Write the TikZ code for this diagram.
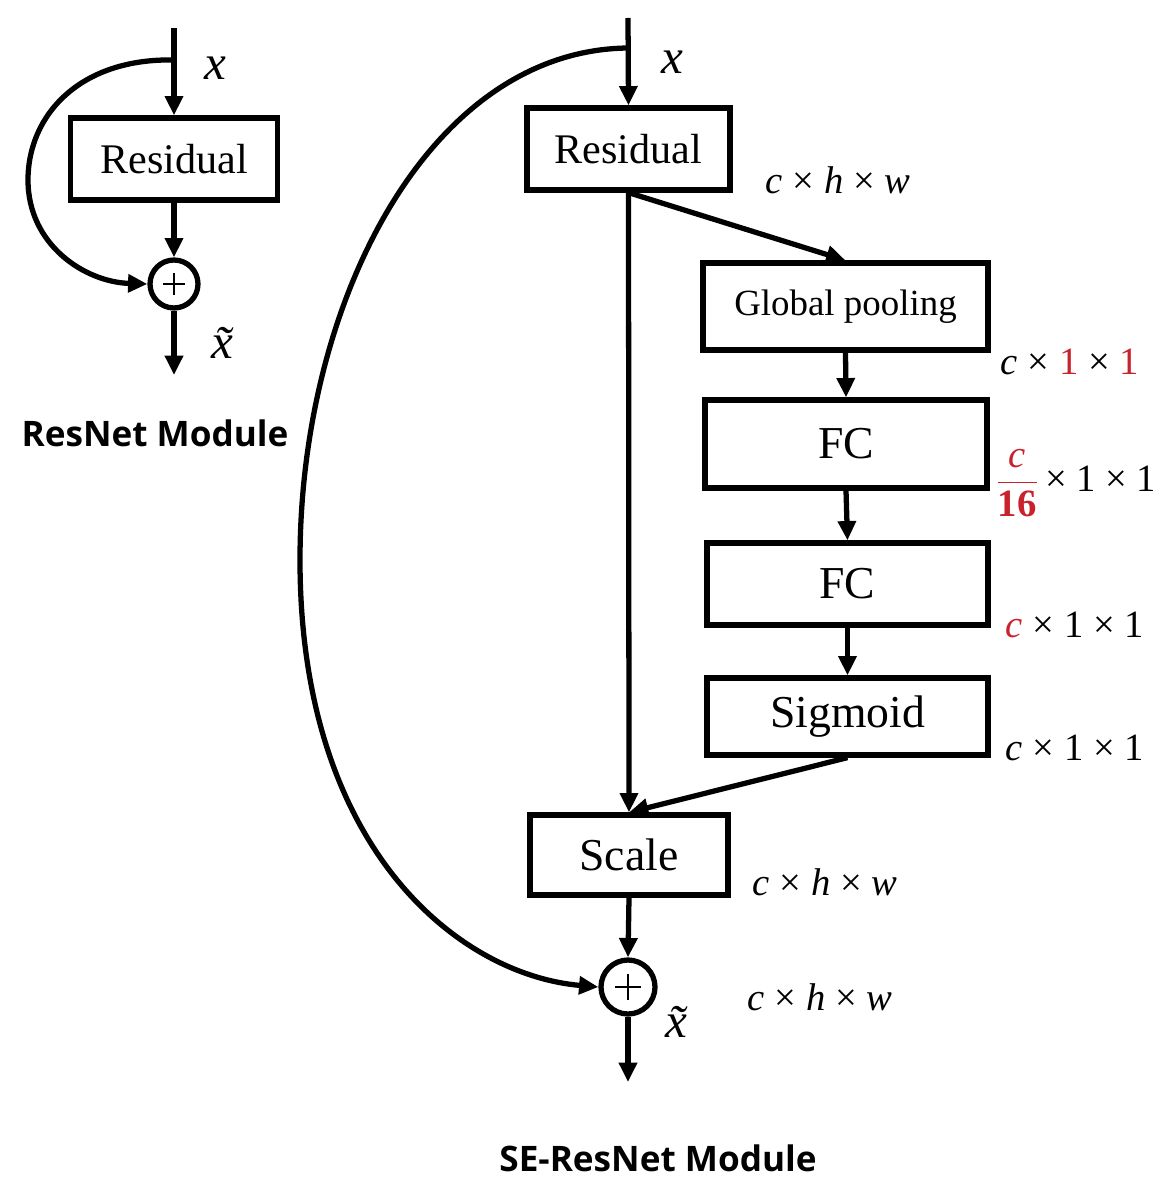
\documentclass[tikz,border=0pt]{standalone}
\usepackage{fontspec}
\setmainfont{Liberation Serif}
\newfontfamily\titlefont{Open Sans}
\usetikzlibrary{arrows.meta}
\definecolor{dimred}{RGB}{200,35,45}
\newcommand{\tm}{×}
\begin{document}
\begin{tikzpicture}[x=0.02cm,y=-0.02cm,
  line width=3pt,
  arr/.style={-{Triangle[length=11pt,width=10pt]}},
  blk/.style={draw,rectangle,inner sep=0pt,font=\fontsize{24}{28}\selectfont},
  sum/.style={draw,circle,inner sep=0pt},
  dimlab/.style={font=\fontsize{22}{26}\selectfont,inner sep=0pt},
  varlab/.style={font=\fontsize{28}{32}\selectfont\itshape,inner sep=0pt},
  title/.style={font=\titlefont\bfseries\fontsize{20}{24}\selectfont,inner sep=0pt}]
\useasboundingbox (0,0) rectangle (1171,1179);

% ---------- ResNet module ----------
\coordinate (lin) at (174,28);
\coordinate (lsplit) at (174,60);
\coordinate (lout) at (174,375);
\node[blk,minimum width=4.14cm,minimum height=1.64cm] (lres) at (174,159) {Residual};
\node[sum,minimum size=0.96cm] (lsum) at (174,284) {};
\draw[line width=0.6pt] (lsum.center) ++(-11,0) -- ++(22,0);
\draw[line width=0.6pt] (lsum.center) ++(0,-11) -- ++(0,22);

\draw[arr] (lin) -- (lres.north);
\draw[arr] (lres.south) -- (lsum.north);
\draw[arr] (lsum.south) -- (lout);
\draw[arr] (lsplit) .. controls (80,58) and (28,115) .. (28,180)
  .. controls (28,245) and (85,282) .. (lsum.west);

\node[varlab] (lx) at (215,68) {x};
\node[varlab] (lxt) at (222,343) {\~x};
\node[title] (ltitle) at (155,433) {ResNet Module};

% ---------- SE-ResNet module ----------
\coordinate (rin) at (628,18);
\coordinate (rsplit) at (628,48);
\coordinate (rout) at (628,1082);
\node[blk,minimum width=4.06cm,minimum height=1.64cm] (rres) at (628.5,149) {Residual};
\node[blk,minimum width=5.7cm,minimum height=1.74cm,font=\fontsize{21}{25}\selectfont] (gp) at (845.5,306.5) {Global pooling};
\node[blk,minimum width=5.64cm,minimum height=1.76cm,font=\fontsize{26}{30}\selectfont] (fc1) at (846,444) {FC};
\node[blk,minimum width=5.62cm,minimum height=1.64cm,font=\fontsize{26}{30}\selectfont] (fc2) at (847.5,584) {FC};
\node[blk,minimum width=5.62cm,minimum height=1.54cm,font=\fontsize{26}{30}\selectfont] (sig) at (847.5,716.5) {Sigmoid};
\node[blk,minimum width=3.96cm,minimum height=1.6cm,font=\fontsize{26}{30}\selectfont] (scale) at (629,855) {Scale};
\node[sum,minimum size=1.08cm] (rsum) at (628,987) {};
\draw[line width=0.6pt] (rsum.center) ++(-13,0) -- ++(26,0);
\draw[line width=0.6pt] (rsum.center) ++(0,-13) -- ++(0,26);

\draw[arr] (rin) -- (rres.north);
\draw[arr] (rres.south) -- (scale.north);
\draw[arr] (rres.south) -- (gp.north);
\draw[arr] (gp.south) -- (fc1.north);
\draw[arr] (fc1.south) -- (fc2.north);
\draw[arr] (fc2.south) -- (sig.north);
\draw[arr] (sig.south) -- (scale.north);
\draw[arr] (scale.south) -- (rsum.north);
\draw[arr] (rsum.south) -- (rout);
\draw[arr] (rsplit) .. controls (430,50) and (300,300) .. (300,560)
  .. controls (300,850) and (460,975) .. (rsum.west);

\node[varlab] (rx) at (672,62) {x};
\node[varlab] (rxt) at (676,1022) {\~x};

\node[dimlab] (d1) at (838,180) {\textit{c} \tm{} \textit{h} \tm{} \textit{w}};
\node[dimlab] (d2) at (1070,362) {\textit{c} \tm{} \textcolor{dimred}{1} \tm{} \textcolor{dimred}{1}};
\node[dimlab] (d3) at (1076,483) {\textcolor{dimred}{$\displaystyle\frac{\mbox{\itshape c}}{\mbox{\bfseries 16}}$}\,\tm{} 1 \tm{} 1};
\node[dimlab] (d4) at (1075,625) {\textcolor{dimred}{\textit{c}} \tm{} 1 \tm{} 1};
\node[dimlab] (d5) at (1075,748) {\textit{c} \tm{} 1 \tm{} 1};
\node[dimlab] (d6) at (825,882) {\textit{c} \tm{} \textit{h} \tm{} \textit{w}};
\node[dimlab] (d7) at (820,997) {\textit{c} \tm{} \textit{h} \tm{} \textit{w}};

\node[title] (rtitle) at (658,1158) {SE-ResNet Module};
\end{tikzpicture}
\end{document}
